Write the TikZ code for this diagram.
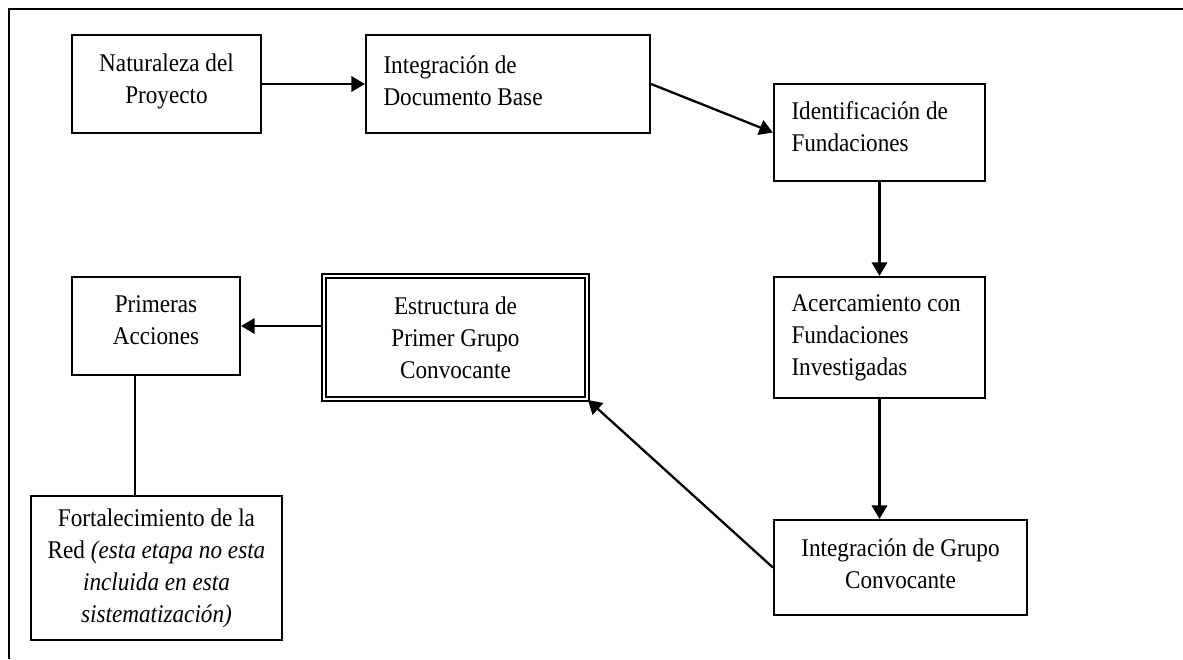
\documentclass[tikz,border=0pt]{standalone}
\usepackage{fontspec}
\setmainfont{Liberation Serif}[FakeStretch=0.91]
\usepackage{tikz}
\usetikzlibrary{positioning, arrows.meta}
\newcommand{\BoxFont}{\fontsize{14.5}{18.2}\selectfont}
\tikzset{
  stage/.style={draw, line width=1.3pt, inner sep=0pt, align=center, font=\BoxFont},
  leftstage/.style={stage, align=flush left, inner xsep=0.35cm},
  mainstage/.style={stage, line width=1.1pt, double, double distance=1.4pt},
  flow/.style={line width=1.3pt, -{Triangle[length=0.27cm, width=0.31cm]}}
}

\begin{document}
\begin{tikzpicture}
        \useasboundingbox (0,0) rectangle (23.66,13.18);
        % draw frame
        \draw[line width=1.3pt] (0.18,0) -- (0.18,13.0) -- (23.66,13.0);
        % stages, upper row
        \node[stage, minimum width=3.78cm, minimum height=1.96cm, text depth=0.21cm] (nat) at (3.33,11.5) {Naturaleza del\\Proyecto};
        \node[leftstage, text width=4.98cm, minimum height=1.96cm, text depth=0.76cm] (doc) at (10.16,11.5) {Integración de\\Documento Base};
        \node[leftstage, text width=3.52cm, minimum height=1.94cm, text depth=0.86cm] (ident) at (17.59,10.53) {Identificación de\\Fundaciones};
        % stages, right column
        \node[leftstage, text width=3.52cm, minimum height=2.42cm] (acerc) at (17.59,6.43) {Acercamiento con\\Fundaciones\\Investigadas};
        \node[stage, minimum width=5.06cm, minimum height=1.9cm, text depth=0.16cm] (grupo) at (18.01,1.83) {Integración de Grupo\\Convocante};
        % stages, left side
        \node[mainstage, minimum width=5.26cm, minimum height=2.46cm] (estruct) at (9.11,6.43) {Estructura de\\Primer Grupo\\Convocante};
        \node[stage, minimum width=3.36cm, minimum height=1.96cm, text depth=0.24cm] (prim) at (3.12,6.66) {Primeras\\Acciones};
        \node[stage, minimum width=5.02cm, minimum height=2.88cm] (fort) at (3.13,1.82) {Fortalecimiento de la\\Red \textit{(esta etapa no esta}\\\textit{incluida en esta}\\\textit{sistematización)}};
        % arrows
        \draw[flow] (nat.east) -- (doc.west);
        \draw[flow] (doc.east) -- (ident.west);
        \draw[flow] (ident.south) -- (acerc.north);
        \draw[flow] (acerc.south) -- (acerc.south |- grupo.north);
        \draw[flow] (grupo.west) -- (estruct.south east);
        \draw[flow] (estruct.west |- prim.east) -- (prim.east);
        % plain link
        \draw[line width=1.3pt] ([xshift=-0.42cm]prim.south) -- ([xshift=-0.42cm]prim.south |- fort.north);
\end{tikzpicture}
\end{document}
